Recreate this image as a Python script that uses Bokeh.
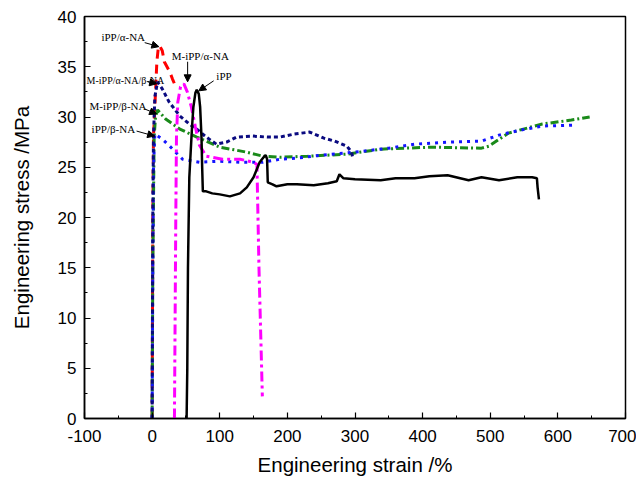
from bokeh.plotting import figure
from bokeh.models import Range1d, SingleIntervalTicker, Arrow, NormalHead, ColumnDataSource, CustomJSTickFormatter
from bokeh.core.properties import value
from bokeh.embed import file_html
from bokeh.resources import INLINE

# ---- data ----
ipp_x = [51, 52, 53, 55, 59, 61, 64, 66, 69, 71, 73, 74, 75, 80, 89, 100, 115, 130, 140, 150, 159, 166, 168, 170, 171,
         178, 184, 200, 214, 239, 260, 273, 277, 283, 300, 338, 360, 388, 410, 437, 468, 487, 513, 540, 562, 569, 570, 572]
ipp_y = [0, 5, 15, 24, 29, 31, 32.4, 32.7, 32.3, 31.0, 28.0, 25.0, 22.6, 22.6, 22.4, 22.3, 22.1, 22.4, 23.0, 24.0, 25.5,
         26.1, 26.2, 25.8, 23.5, 23.3, 23.1, 23.3, 23.3, 23.2, 23.4, 23.6, 24.3, 23.9, 23.8, 23.7, 23.9, 23.9, 24.1,
         24.2, 23.7, 24.0, 23.7, 24.0, 24.0, 23.9, 23.0, 21.8]

ipp_ana_x = [0, 1, 2, 4, 6, 7, 9, 11, 15, 18, 22, 26, 30, 35]
ipp_ana_y = [0, 20, 28, 31, 34, 35.5, 36.8, 37.1, 36.6, 35.5, 35.0, 34.5, 33.8, 33.0]

m_ana_bna_x = [0, 0.5, 1, 2, 4, 8, 15, 25, 41, 55, 66, 80, 95, 110, 125, 149, 170, 189, 210, 233, 254, 270, 288, 295, 297]
m_ana_bna_y = [0, 10, 20, 28, 32, 33.5, 32.8, 31.5, 30.1, 29.3, 28.8, 28.0, 27.3, 27.5, 28.0, 28.1, 28.0, 28.0, 28.3,
               28.5, 27.9, 27.6, 27.1, 26.5, 25.8]

m_bna_x = [0, 1, 3, 5, 8, 20, 41, 66, 100, 140, 164, 189, 230, 288, 338, 412, 487, 498, 527, 577, 620, 647]
m_bna_y = [0, 15, 28, 30, 30.7, 29.8, 28.8, 28.0, 27.0, 26.5, 26.1, 26.0, 26.1, 26.3, 26.8, 27.0, 26.9, 27.1, 28.4,
           29.3, 29.7, 30.0]

ipp_bna_x = [0, 1, 2, 4, 15, 26, 45, 70, 100, 130, 164, 189, 214, 250, 300, 350, 388, 440, 487, 513, 545, 577, 626]
ipp_bna_y = [0, 15, 25, 28.3, 27.8, 27.1, 25.8, 25.5, 25.6, 25.5, 25.5, 25.8, 25.9, 26.2, 26.5, 26.9, 27.3, 27.5,
             27.6, 28.2, 28.7, 29.1, 29.2]

m_ana_x = [33, 34, 35, 36, 38, 42, 47, 52, 58, 64, 70, 80, 104, 130, 149, 155, 158, 163]
m_ana_y = [0, 10, 20, 28, 31.5, 33, 33.3, 32.5, 31.0, 29.0, 27.2, 26.1, 25.8, 25.8, 25.5, 25.3, 15, 2.2]

# label annotations: text, text position, arrow start, arrow end
label_text = ["iPP/α-NA", "M-iPP/α-NA", "iPP", "M-iPP/β-NA", "iPP/β-NA"]
label_x = [-75, 29, 95, -92.5, -89.5]
label_y = [38.0, 36.1, 34.1, 31.1, 28.8]
arrow_x0 = [-11, 52.5, 91, -11, -23]
arrow_y0 = [37.4, 35.5, 33.6, 30.8, 28.6]
arrow_x1 = [10, 52.5, 69, 6.7, 3.7]
arrow_y1 = [37.0, 33.5, 32.6, 30.3, 28.1]

small_label_text = ["M-iPP/α-NA/β-NA"]
small_label_x = [-96.9]
small_label_y = [33.6]
small_arrow = [(-6.7, 33.5, 6.7, 33.3)]

p = figure(width=636, height=478, output_backend="svg", toolbar_location=None,
           x_range=Range1d(-100, 700), y_range=Range1d(0, 40),
           min_border_left=84, min_border_right=11, min_border_top=16, min_border_bottom=59)
p.background_fill_color = "white"
p.border_fill_color = "white"
p.outline_line_color = "black"
p.outline_line_width = 1.5
p.xgrid.visible = False
p.ygrid.visible = False

p.xaxis.ticker = SingleIntervalTicker(interval=100, num_minor_ticks=2)
p.yaxis.ticker = SingleIntervalTicker(interval=5, num_minor_ticks=2)
fmt = "return tick.toString();"
for ax in (p.xaxis[0], p.yaxis[0]):
    ax.formatter = CustomJSTickFormatter(code=fmt)
    ax.major_tick_in = 6
    ax.major_tick_out = 0
    ax.minor_tick_in = 3
    ax.minor_tick_out = 0
    ax.axis_line_width = 1.5
    ax.major_tick_line_width = 1.2
    ax.major_label_text_font = "Liberation Sans"
    ax.major_label_text_font_size = "17px"
    ax.major_label_text_color = "black"
    ax.axis_label_text_font = "Liberation Sans"
    ax.axis_label_text_font_size = "20.5px"
    ax.axis_label_text_font_style = "normal"
    ax.axis_label_text_color = "black"

p.xaxis.axis_label = "Engineering strain /%"
p.yaxis.axis_label = "Engineering stress /MPa"
p.xaxis.major_label_standoff = 11
p.yaxis.major_label_standoff = 8
p.xaxis.axis_label_standoff = 8
p.yaxis.axis_label_standoff = 22

p.line(ipp_ana_x, ipp_ana_y, line_color="#ff0000", line_width=3, line_dash="9 6")
p.line(m_bna_x, m_bna_y, line_color="#1a8a1a", line_width=3, line_dash="8 3 2 3")
p.line(ipp_bna_x, ipp_bna_y, line_color="#1414ff", line_width=3, line_dash="3 5")
p.line(m_ana_bna_x, m_ana_bna_y, line_color="#0a0a80", line_width=3, line_dash="4 3")
p.line(m_ana_x, m_ana_y, line_color="#ff00ff", line_width=3, line_dash="10 4 3 4")
p.line(ipp_x, ipp_y, line_color="black", line_width=2.5)

src = ColumnDataSource(dict(x=label_x, y=label_y, t=label_text))
p.text(x="x", y="y", text="t", source=src, text_font=value("Liberation Serif"),
       text_font_size="11px", text_baseline="middle", text_align="left", text_color="black")
src2 = ColumnDataSource(dict(x=small_label_x, y=small_label_y, t=small_label_text))
p.text(x="x", y="y", text="t", source=src2, text_font=value("Liberation Serif"),
       text_font_size="10px", text_baseline="middle", text_align="left", text_color="black")

for xs, ys, xe, ye in list(zip(arrow_x0, arrow_y0, arrow_x1, arrow_y1)) + small_arrow:
    p.add_layout(Arrow(end=NormalHead(size=7, fill_color="black", line_color="black"),
                       x_start=xs, y_start=ys, x_end=xe, y_end=ye,
                       line_color="black", line_width=1))

open("out.html", "w").write(file_html(p, INLINE))
